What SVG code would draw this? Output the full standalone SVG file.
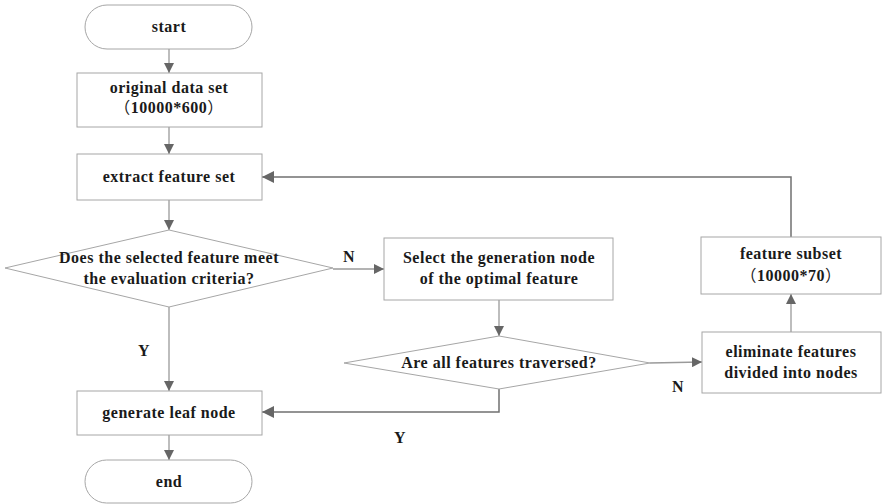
<svg xmlns="http://www.w3.org/2000/svg" width="882" height="504" viewBox="0 0 882 504">
<defs>
<style>
.box{fill:#fff;stroke:#a6a6a6;stroke-width:1}
.t{font-family:"Liberation Serif","Times New Roman",serif;font-weight:bold;font-size:16px;letter-spacing:0.5px;fill:#1a1a1a;text-anchor:middle}
.cjk{font-family:"Noto Sans CJK SC",sans-serif;font-weight:normal}
.c{fill:none;stroke:#9a9a9a;stroke-width:1.3}
.cd{fill:none;stroke:#707070;stroke-width:1.5}
</style>
<marker id="ah" viewBox="0 0 10 10" refX="10" refY="5" markerWidth="10" markerHeight="10" markerUnits="userSpaceOnUse" orient="auto">
<path d="M0,0 L10,5 L0,10 Z" fill="#666"/>
</marker>
<marker id="ahl" viewBox="0 0 10 10" refX="10" refY="5" markerWidth="14" markerHeight="12" markerUnits="userSpaceOnUse" orient="auto">
<path d="M0,0 L10,5 L0,10 Z" fill="#666"/>
</marker>
</defs>
<rect width="882" height="504" fill="#fff"/>
<g id="connectors">
<line class="c" x1="169" y1="49" x2="169" y2="73" marker-end="url(#ah)"/>
<line class="c" x1="169" y1="127" x2="169" y2="154" marker-end="url(#ah)"/>
<line class="c" x1="169" y1="200" x2="169" y2="230" marker-end="url(#ah)"/>
<line class="c" x1="169" y1="307" x2="169" y2="391" marker-end="url(#ah)"/>
<line class="c" x1="169" y1="435" x2="169" y2="460" marker-end="url(#ah)"/>
<line class="c" x1="333" y1="269" x2="384" y2="269" marker-end="url(#ah)"/>
<line class="c" x1="499" y1="300" x2="499" y2="336" marker-end="url(#ah)"/>
<polyline class="cd" points="499,389 499,412 262,412" marker-end="url(#ahl)"/>
<line class="c" x1="650" y1="363" x2="702" y2="362" marker-end="url(#ah)"/>
<line class="c" x1="791" y1="332" x2="791" y2="294" marker-end="url(#ah)"/>
<polyline class="cd" points="791,237 791,177 262,177" marker-end="url(#ahl)"/>
<text class="t" x="349" y="262">N</text>
<text class="t" x="144" y="356">Y</text>
<text class="t" x="400" y="443">Y</text>
<text class="t" x="678" y="392">N</text>
</g>
<g id="start">
<rect class="box" x="85" y="5" width="167" height="44" rx="22" ry="22"/>
<text class="t" x="169" y="32">start</text>
</g>
<g id="original">
<rect class="box" x="77" y="73" width="185" height="54"/>
<text class="t" x="169" y="93">original data set</text>
<text class="t" x="169" y="113"><tspan class="cjk">（</tspan>10000*600<tspan class="cjk">）</tspan></text>
</g>
<g id="extract">
<rect class="box" x="77" y="154" width="185" height="46"/>
<text class="t" x="169" y="182">extract feature set</text>
</g>
<g id="decision1">
<polygon class="box" points="5,268 169,230 333,268 169,307"/>
<text class="t" x="169" y="263">Does the selected feature meet</text>
<text class="t" x="169" y="284">the evaluation criteria?</text>
</g>
<g id="select">
<rect class="box" x="384" y="238" width="229" height="62"/>
<text class="t" x="499" y="263">Select the generation node</text>
<text class="t" x="499" y="284">of the optimal feature</text>
</g>
<g id="decision2">
<polygon class="box" points="344,363 499,336 650,363 499,389"/>
<text class="t" x="499" y="368">Are all features traversed?</text>
</g>
<g id="subset">
<rect class="box" x="701" y="237" width="180" height="57"/>
<text class="t" x="791" y="259">feature subset</text>
<text class="t" x="791" y="281"><tspan class="cjk">（</tspan>10000*70<tspan class="cjk">）</tspan></text>
</g>
<g id="eliminate">
<rect class="box" x="702" y="332" width="179" height="61"/>
<text class="t" x="791" y="357">eliminate features</text>
<text class="t" x="791" y="378">divided into nodes</text>
</g>
<g id="leaf">
<rect class="box" x="77" y="391" width="185" height="44"/>
<text class="t" x="169" y="418">generate leaf node</text>
</g>
<g id="end">
<rect class="box" x="85" y="460" width="167" height="43" rx="21.5" ry="21.5"/>
<text class="t" x="169" y="487">end</text>
</g>
</svg>
